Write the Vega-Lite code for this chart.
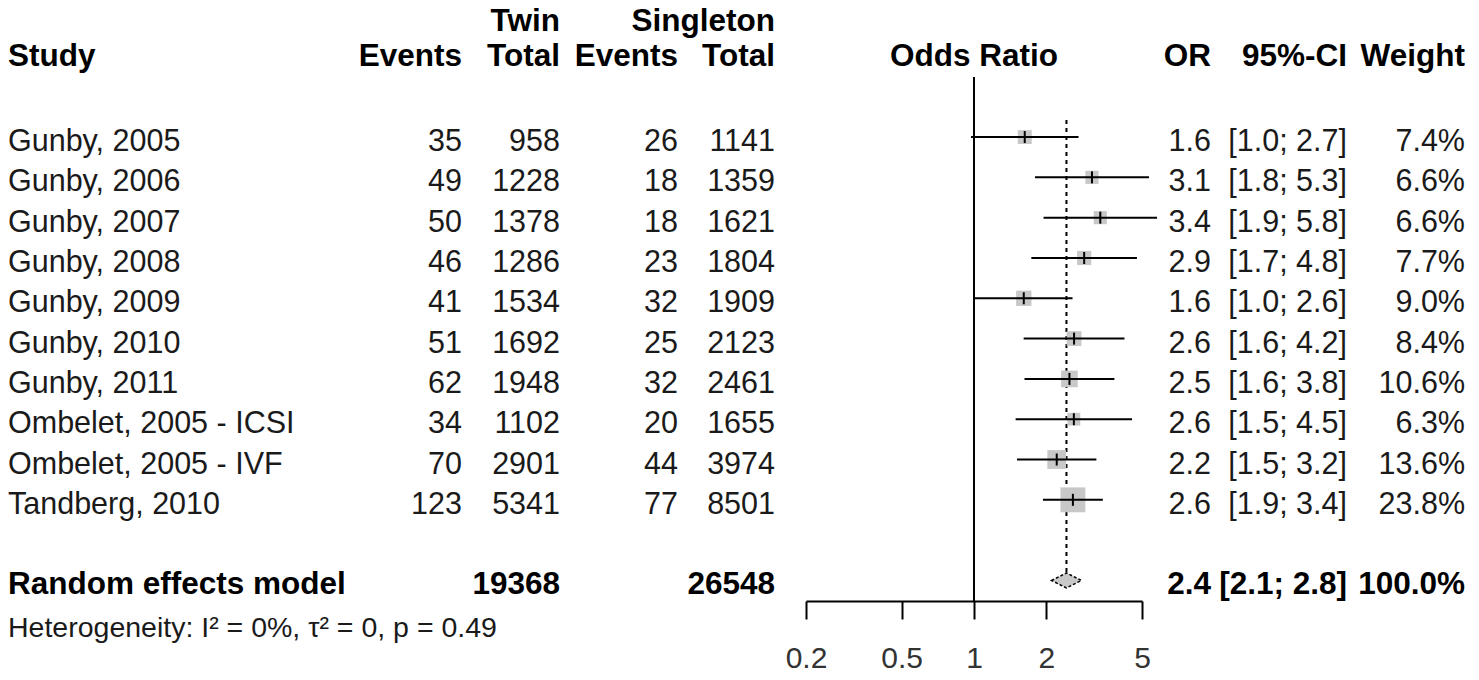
{
  "$schema": "https://vega.github.io/schema/vega-lite/v6.json",
  "padding": {"left": 8, "top": 0, "right": 0, "bottom": 0},
  "background": "white",
  "spacing": 0,
  "bounds": "flush",
  "config": {
    "view": {"stroke": null},
    "text": {"font": "Liberation Sans", "fontSize": 30.5, "dy": 5, "baseline": "middle", "color": "#1a1a1a"},
    "axis": {"grid": false}
  },
  "datasets": {
    "studies": [
      {"study": "Gunby, 2005", "row": 0, "tw_ev": 35, "tw_n": 958, "si_ev": 26, "si_n": 1141, "or": 1.626, "lower": 0.972, "upper": 2.722, "weight": 7.4},
      {"study": "Gunby, 2006", "row": 1, "tw_ev": 49, "tw_n": 1228, "si_ev": 18, "si_n": 1359, "or": 3.096, "lower": 1.794, "upper": 5.344, "weight": 6.6},
      {"study": "Gunby, 2007", "row": 2, "tw_ev": 50, "tw_n": 1378, "si_ev": 18, "si_n": 1621, "or": 3.353, "lower": 1.947, "upper": 5.775, "weight": 6.6},
      {"study": "Gunby, 2008", "row": 3, "tw_ev": 46, "tw_n": 1286, "si_ev": 23, "si_n": 1804, "or": 2.873, "lower": 1.732, "upper": 4.763, "weight": 7.7},
      {"study": "Gunby, 2009", "row": 4, "tw_ev": 41, "tw_n": 1534, "si_ev": 32, "si_n": 1909, "or": 1.611, "lower": 1.009, "upper": 2.570, "weight": 9.0},
      {"study": "Gunby, 2010", "row": 5, "tw_ev": 51, "tw_n": 1692, "si_ev": 25, "si_n": 2123, "or": 2.608, "lower": 1.609, "upper": 4.227, "weight": 8.4},
      {"study": "Gunby, 2011", "row": 6, "tw_ev": 62, "tw_n": 1948, "si_ev": 32, "si_n": 2461, "or": 2.495, "lower": 1.622, "upper": 3.839, "weight": 10.6},
      {"study": "Ombelet, 2005 - ICSI", "row": 7, "tw_ev": 34, "tw_n": 1102, "si_ev": 20, "si_n": 1655, "or": 2.603, "lower": 1.490, "upper": 4.546, "weight": 6.3},
      {"study": "Ombelet, 2005 - IVF", "row": 8, "tw_ev": 70, "tw_n": 2901, "si_ev": 44, "si_n": 3974, "or": 2.209, "lower": 1.510, "upper": 3.230, "weight": 13.6},
      {"study": "Tandberg, 2010", "row": 9, "tw_ev": 123, "tw_n": 5341, "si_ev": 77, "si_n": 8501, "or": 2.579, "lower": 1.936, "upper": 3.436, "weight": 23.8}
    ],
    "pooled": [
      {"study": "Random effects model", "row": 11, "tw_n": 19368, "si_n": 26548, "or": 2.425, "lower": 2.108, "upper": 2.789, "weight": 100}
    ],
    "het": [
      {"label": "Heterogeneity: I² = 0%, τ² = 0, p = 0.49", "row": 12.05}
    ]
  },
  "hconcat": [
    {
      "width": 355, "height": 601,
      "layer": [
        {"data": {"values": [{"h": "Study"}]}, "mark": {"type": "text", "align": "left", "fontWeight": "bold", "fontSize": 31.5, "color": "#000"},
         "encoding": {"x": {"value": 0}, "y": {"datum": -2.12, "type": "quantitative", "scale": {"domain": [-3.4, 11.51], "reverse": true, "nice": false, "zero": false}, "axis": null}, "text": {"field": "h"}}},
        {"data": {"name": "studies"}, "mark": {"type": "text", "align": "left"},
         "encoding": {"x": {"value": 0}, "y": {"field": "row", "type": "quantitative", "axis": null}, "text": {"field": "study"}}},
        {"data": {"name": "pooled"}, "mark": {"type": "text", "align": "left", "fontWeight": "bold", "fontSize": 31.5, "color": "#000"},
         "encoding": {"x": {"value": 0}, "y": {"field": "row", "type": "quantitative", "axis": null}, "text": {"field": "study"}}},
        {"data": {"name": "het"}, "mark": {"type": "text", "align": "left", "fontSize": 28.5},
         "encoding": {"x": {"value": 0}, "y": {"field": "row", "type": "quantitative", "axis": null}, "text": {"field": "label"}}}
      ]
    },
    {
      "width": 99, "height": 601,
      "layer": [
        {"data": {"values": [{"h": "Events"}]}, "mark": {"type": "text", "align": "right", "fontWeight": "bold", "fontSize": 31.5, "color": "#000"},
         "encoding": {"x": {"value": "width"}, "y": {"datum": -2.12, "type": "quantitative", "scale": {"domain": [-3.4, 11.51], "reverse": true, "nice": false, "zero": false}, "axis": null}, "text": {"field": "h"}}},
        {"data": {"name": "studies"}, "mark": {"type": "text", "align": "right"},
         "encoding": {"x": {"value": "width"}, "y": {"field": "row", "type": "quantitative", "axis": null}, "text": {"field": "tw_ev"}}}
      ]
    },
    {
      "width": 98, "height": 601,
      "layer": [
        {"data": {"values": [{"h": "Twin", "r": -2.99}, {"h": "Total", "r": -2.12}]}, "mark": {"type": "text", "align": "right", "fontWeight": "bold", "fontSize": 31.5, "color": "#000"},
         "encoding": {"x": {"value": "width"}, "y": {"field": "r", "type": "quantitative", "scale": {"domain": [-3.4, 11.51], "reverse": true, "nice": false, "zero": false}, "axis": null}, "text": {"field": "h"}}},
        {"data": {"name": "studies"}, "mark": {"type": "text", "align": "right"},
         "encoding": {"x": {"value": "width"}, "y": {"field": "row", "type": "quantitative", "axis": null}, "text": {"field": "tw_n"}}},
        {"data": {"name": "pooled"}, "mark": {"type": "text", "align": "right", "fontWeight": "bold", "fontSize": 31.5, "color": "#000"},
         "encoding": {"x": {"value": "width"}, "y": {"field": "row", "type": "quantitative", "axis": null}, "text": {"field": "tw_n"}}}
      ]
    },
    {
      "width": 118, "height": 601,
      "layer": [
        {"data": {"values": [{"h": "Events"}]}, "mark": {"type": "text", "align": "right", "fontWeight": "bold", "fontSize": 31.5, "color": "#000"},
         "encoding": {"x": {"value": "width"}, "y": {"datum": -2.12, "type": "quantitative", "scale": {"domain": [-3.4, 11.51], "reverse": true, "nice": false, "zero": false}, "axis": null}, "text": {"field": "h"}}},
        {"data": {"name": "studies"}, "mark": {"type": "text", "align": "right"},
         "encoding": {"x": {"value": "width"}, "y": {"field": "row", "type": "quantitative", "axis": null}, "text": {"field": "si_ev"}}}
      ]
    },
    {
      "width": 97, "height": 601,
      "layer": [
        {"data": {"values": [{"h": "Singleton", "r": -2.99}, {"h": "Total", "r": -2.12}]}, "mark": {"type": "text", "align": "right", "fontWeight": "bold", "fontSize": 31.5, "color": "#000"},
         "encoding": {"x": {"value": "width"}, "y": {"field": "r", "type": "quantitative", "scale": {"domain": [-3.4, 11.51], "reverse": true, "nice": false, "zero": false}, "axis": null}, "text": {"field": "h"}}},
        {"data": {"name": "studies"}, "mark": {"type": "text", "align": "right"},
         "encoding": {"x": {"value": "width"}, "y": {"field": "row", "type": "quantitative", "axis": null}, "text": {"field": "si_n"}}},
        {"data": {"name": "pooled"}, "mark": {"type": "text", "align": "right", "fontWeight": "bold", "fontSize": 31.5, "color": "#000"},
         "encoding": {"x": {"value": "width"}, "y": {"field": "row", "type": "quantitative", "axis": null}, "text": {"field": "si_n"}}}
      ]
    },
    {
      "width": 398, "height": 601,
      "layer": [
        {"data": {"values": [{"ref": 1}]}, "mark": {"type": "rule", "strokeWidth": 2, "color": "#000"},
         "encoding": {
           "x": {"field": "ref", "type": "quantitative", "title": null,
                 "scale": {"type": "log", "domain": [0.2, 5], "range": [31, 367], "nice": false},
                 "axis": {"values": [0.2, 0.5, 1, 2, 5], "format": "~g", "title": null, "domainColor": "#000", "domainWidth": 2, "tickColor": "#000", "tickWidth": 2, "tickSize": 18, "labelFont": "Liberation Sans", "labelFontSize": 30, "labelColor": "#333", "labelPadding": 24, "labelFlush": false, "labelOverlap": false, "grid": false}},
           "y": {"datum": -1.49, "type": "quantitative", "scale": {"domain": [-3.4, 11.51], "reverse": true, "nice": false, "zero": false}, "axis": null},
           "y2": {"datum": 11.51}
         }},
        {"data": {"name": "pooled"}, "mark": {"type": "rule", "strokeWidth": 2, "strokeDash": [4, 4], "color": "#000"},
         "encoding": {"x": {"field": "or", "type": "quantitative", "title": null}, "y": {"datum": -0.42, "type": "quantitative", "axis": null}, "y2": {"datum": 10.79}}},
        {"data": {"name": "studies"}, "mark": {"type": "point", "shape": "square", "filled": true, "fill": "#c8c8c8", "opacity": 1, "strokeWidth": 0},
         "encoding": {"x": {"field": "or", "type": "quantitative", "title": null}, "y": {"field": "row", "type": "quantitative", "axis": null},
                      "size": {"field": "weight", "type": "quantitative", "scale": {"domain": [0, 23.8], "range": [0, 620], "zero": true}, "legend": null}}},
        {"data": {"name": "studies"}, "mark": {"type": "rule", "strokeWidth": 2, "color": "#000"},
         "encoding": {"x": {"field": "lower", "type": "quantitative", "title": null}, "x2": {"field": "upper"}, "y": {"field": "row", "type": "quantitative", "axis": null}}},
        {"data": {"name": "studies"}, "mark": {"type": "point", "shape": "M0,-1L0,1", "filled": false, "stroke": "#000", "strokeWidth": 2, "size": 144, "opacity": 1},
         "encoding": {"x": {"field": "or", "type": "quantitative", "title": null}, "y": {"field": "row", "type": "quantitative", "axis": null}}},
        {"data": {"name": "pooled"}, "mark": {"type": "point", "shape": "M-1,0L0,-0.5L1,0L0,0.5Z", "filled": true, "fill": "#c8c8c8", "stroke": "#000", "strokeWidth": 1.5, "strokeDash": [3, 2], "size": 900, "opacity": 1},
         "encoding": {"x": {"field": "or", "type": "quantitative", "title": null}, "y": {"field": "row", "type": "quantitative", "axis": null}}},
        {"data": {"values": [{"h": "Odds Ratio", "at": 1}]}, "mark": {"type": "text", "align": "center", "fontWeight": "bold", "fontSize": 31.5, "color": "#000"},
         "encoding": {"x": {"field": "at", "type": "quantitative", "title": null}, "y": {"datum": -2.12, "type": "quantitative", "axis": null}, "text": {"field": "h"}}}
      ]
    },
    {
      "width": 38, "height": 601,
      "layer": [
        {"data": {"values": [{"h": "OR"}]}, "mark": {"type": "text", "align": "right", "fontWeight": "bold", "fontSize": 31.5, "color": "#000"},
         "encoding": {"x": {"value": "width"}, "y": {"datum": -2.12, "type": "quantitative", "scale": {"domain": [-3.4, 11.51], "reverse": true, "nice": false, "zero": false}, "axis": null}, "text": {"field": "h"}}},
        {"data": {"name": "studies"}, "mark": {"type": "text", "align": "right"},
         "encoding": {"x": {"value": "width"}, "y": {"field": "row", "type": "quantitative", "axis": null}, "text": {"field": "or", "type": "quantitative", "format": ".1f"}}},
        {"data": {"name": "pooled"}, "mark": {"type": "text", "align": "right", "fontWeight": "bold", "fontSize": 31.5, "color": "#000"},
         "encoding": {"x": {"value": "width"}, "y": {"field": "row", "type": "quantitative", "axis": null}, "text": {"field": "or", "type": "quantitative", "format": ".1f"}}}
      ]
    },
    {
      "width": 136, "height": 601,
      "layer": [
        {"data": {"values": [{"h": "95%-CI"}]}, "mark": {"type": "text", "align": "right", "fontWeight": "bold", "fontSize": 31.5, "color": "#000"},
         "encoding": {"x": {"value": "width"}, "y": {"datum": -2.12, "type": "quantitative", "scale": {"domain": [-3.4, 11.51], "reverse": true, "nice": false, "zero": false}, "axis": null}, "text": {"field": "h"}}},
        {"data": {"name": "studies"}, "transform": [{"calculate": "'[' + format(datum.lower, '.1f') + '; ' + format(datum.upper, '.1f') + ']'", "as": "ci"}],
         "mark": {"type": "text", "align": "right"},
         "encoding": {"x": {"value": "width"}, "y": {"field": "row", "type": "quantitative", "axis": null}, "text": {"field": "ci"}}},
        {"data": {"name": "pooled"}, "transform": [{"calculate": "'[' + format(datum.lower, '.1f') + '; ' + format(datum.upper, '.1f') + ']'", "as": "ci"}],
         "mark": {"type": "text", "align": "right", "fontWeight": "bold", "fontSize": 31.5, "color": "#000"},
         "encoding": {"x": {"value": "width"}, "y": {"field": "row", "type": "quantitative", "axis": null}, "text": {"field": "ci"}}}
      ]
    },
    {
      "width": 118, "height": 601,
      "layer": [
        {"data": {"values": [{"h": "Weight"}]}, "mark": {"type": "text", "align": "right", "fontWeight": "bold", "fontSize": 31.5, "color": "#000"},
         "encoding": {"x": {"value": "width"}, "y": {"datum": -2.12, "type": "quantitative", "scale": {"domain": [-3.4, 11.51], "reverse": true, "nice": false, "zero": false}, "axis": null}, "text": {"field": "h"}}},
        {"data": {"name": "studies"}, "transform": [{"calculate": "format(datum.weight, '.1f') + '%'", "as": "w"}],
         "mark": {"type": "text", "align": "right"},
         "encoding": {"x": {"value": "width"}, "y": {"field": "row", "type": "quantitative", "axis": null}, "text": {"field": "w"}}},
        {"data": {"name": "pooled"}, "transform": [{"calculate": "format(datum.weight, '.1f') + '%'", "as": "w"}],
         "mark": {"type": "text", "align": "right", "fontWeight": "bold", "fontSize": 31.5, "color": "#000"},
         "encoding": {"x": {"value": "width"}, "y": {"field": "row", "type": "quantitative", "axis": null}, "text": {"field": "w"}}}
      ]
    }
  ]
}
